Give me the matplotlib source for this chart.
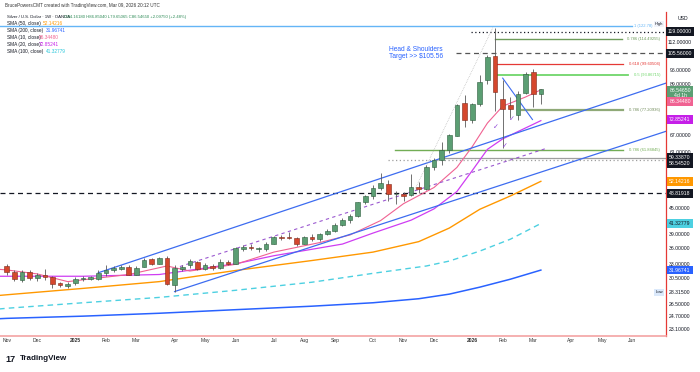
import numpy as np
import pandas as pd
import matplotlib
matplotlib.use("Agg")
import matplotlib.pyplot as plt
import matplotlib.dates as mdates
import matplotlib.transforms as mtransforms

plt.rcParams['font.family'] = ['Liberation Sans', 'DejaVu Sans']

# weekly candles, silver / USD (OANDA), first bar = week of Nov 4 2024
first_week = pd.Timestamp('2024-11-04')
opens = [32.7, 31.7, 30.3, 31.6, 30.6, 31.1, 30.7, 29.7, 29.35, 29.7,
         30.4, 30.45, 30.5, 31.5, 31.9, 32.2, 32.6, 31.2, 32.6, 33.9,
         33.1, 34.1, 29.4, 32.2, 32.8, 33.4, 32.2, 32.7, 32.4, 33.4,
         33.1, 36.0, 36.3, 35.9, 35.9, 37.0, 38.4, 38.3, 38.2, 37.0,
         38.4, 38.0, 39.0, 39.6, 41.0, 42.2, 43.1, 46.5, 48.1, 50.2,
         51.5, 48.5, 48.7, 48.3, 50.6, 50.0, 56.5, 58.6, 62.0, 67.1,
         80.5, 73.0, 80.0, 91.0, 104.0, 81.9, 79.4, 75.2, 85.0, 95.0,
         84.1618]
highs = [33.1, 31.9, 32.0, 31.9, 31.5, 32.2, 31.0, 30.0, 29.9, 30.7,
         31.0, 31.0, 32.0, 32.8, 32.7, 32.9, 32.9, 32.7, 34.1, 34.2,
         34.4, 34.6, 32.8, 32.9, 33.9, 33.6, 33.3, 33.1, 33.9, 33.8,
         36.3, 36.8, 37.0, 36.4, 37.3, 38.6, 38.8, 39.5, 38.4, 38.6,
         38.9, 39.2, 40.1, 41.4, 42.5, 43.5, 46.6, 48.4, 51.2, 54.5,
         52.5, 49.4, 49.3, 54.4, 52.0, 57.0, 59.3, 64.6, 67.5, 79.8,
         84.0, 80.5, 93.5, 104.5, 121.6, 91.3, 83.0, 86.0, 95.3, 97.0,
         86.8504]
lows = [31.1, 30.1, 30.0, 30.3, 30.1, 30.3, 28.9, 29.1, 29.0, 29.5,
        30.1, 30.2, 30.3, 30.9, 31.6, 31.9, 31.1, 31.1, 32.5, 32.9,
        33.0, 29.5, 28.315, 31.8, 32.4, 31.9, 32.0, 31.9, 32.2, 32.8,
        33.0, 35.6, 35.7, 35.3, 35.5, 36.9, 37.7, 37.9, 36.6, 36.9,
        37.6, 37.5, 38.8, 39.4, 40.8, 41.5, 42.9, 45.9, 47.2, 49.8,
        46.9, 46.0, 46.9, 48.0, 49.0, 49.8, 55.5, 57.0, 61.0, 67.0,
        70.5, 72.0, 79.0, 89.0, 77.0, 62.8, 74.0, 73.0, 84.3, 78.5,
        79.65065]
closes = [31.7, 30.4, 31.6, 30.6, 31.1, 30.7, 29.6, 29.4, 29.6, 30.5,
          30.6, 30.8, 31.4, 32.0, 32.3, 32.5, 31.2, 32.4, 33.8, 33.1,
          34.1, 29.6, 32.3, 32.6, 33.6, 32.1, 32.9, 32.3, 33.5, 33.0,
          36.2, 36.3, 36.1, 36.0, 36.9, 38.4, 38.2, 38.2, 37.0, 38.3,
          38.0, 39.0, 39.7, 41.0, 42.2, 43.1, 46.4, 48.0, 50.2, 51.6,
          48.6, 48.7, 48.1, 50.6, 50.1, 56.4, 58.6, 62.0, 67.2, 79.4,
          73.0, 79.8, 90.3, 103.5, 85.2, 77.8, 77.6, 84.6, 94.2, 84.45,
          86.5465]

# moving averages (week number from first bar, value)
sma10_weeks = [-1, 0, 4, 8, 12, 16, 21, 24, 30, 35, 41, 45, 49, 52, 56, 59, 61, 63, 65, 68, 70]
sma10_vals = [32.1, 32.0, 31.3, 30.0, 30.6, 31.2, 32.7, 31.8, 33.0, 35.3, 37.2, 38.8, 42.0,
              46.1, 50.4, 56.3, 63.1, 71.9, 78.9, 83.0, 86.3448]
sma20_weeks = [-1, 0, 10, 20, 30, 35, 39, 44, 48, 53, 56, 59, 61, 63, 65, 70]
sma20_vals = [30.9, 30.9, 30.9, 31.2, 33.1, 34.6, 35.6, 36.9, 39.2, 42.1, 44.8, 49.3,
              55.3, 62.2, 65.9, 72.85241]
sma50_weeks = [-1, 0, 10, 20, 30, 40, 48, 54, 58, 62, 66, 70]
sma50_vals = [27.8, 27.9, 28.9, 30.0, 31.9, 33.7, 35.3, 37.4, 40.3, 44.7, 48.1, 52.14216]
sma100_weeks = [-1, 0, 10, 20, 30, 40, 48, 55, 58, 62, 66, 70]
sma100_vals = [25.8, 25.9, 26.7, 27.5, 28.6, 29.9, 31.4, 32.7, 33.6, 35.5, 37.9, 41.32779]
sma200_weeks = [-1, 0, 10, 20, 30, 40, 48, 54, 58, 62, 66, 70]
sma200_vals = [24.45, 24.5, 24.8, 25.2, 25.7, 26.2, 26.7, 27.3, 28.0, 29.1, 30.4, 31.96741]

month_labels = ['Nov', 'Dec', '2025', 'Feb', 'Mar', 'Apr', 'May', 'Jun', 'Jul', 'Aug',
                'Sep', 'Oct', 'Nov', 'Dec', '2026', 'Feb', 'Mar', 'Apr', 'May', 'Jun']

# horizontal levels: (price, start week, end week, colour, style, width, label)
fib_levels = [
    (122.78, -2, 82.0, '#64b5f6', '-', 1.0, '1 (122.78)'),
    (114.49255, 64, 80.6, '#6d9b5a', '-', 1.0, '0.786 (114.49255)'),
    (99.60504, 64, 80.8, '#e53935', '-', 0.9, '0.618 (99.60504)'),
    (93.86715, 64, 81.4, '#6fd66a', '-', 1.3, '0.5 (93.86715)'),
    (77.20936, 67.5, 80.8, '#8fa977', '-', 1.6, '0.786 (77.20936)'),
    (61.84845, 50.9, 80.8, '#72ad55', '-', 1.0, '0.786 (61.84845)'),
]
price_lines = [
    (119.0, 60.9, '#131722', (0, (1, 2))),
    (105.56, 58.9, '#555555', (0, (4, 3))),
    (59.3387, 56.8, '#9e9e9e', '-'),
    (58.5452, 50.0, '#9e9e9e', (0, (1, 2))),
    (48.81918, -2, '#131722', (0, (4, 3))),
]

dates = first_week + pd.to_timedelta(np.arange(len(closes)) * 7, unit='D')
x = mdates.date2num(dates)
x0 = x[0]
opens, highs, lows, closes = map(np.array, (opens, highs, lows, closes))


def wk(w):
    return x0 + 7 * np.asarray(w, dtype=float)


fig = plt.figure(figsize=(7, 3.72), dpi=100)
ax = fig.add_axes([0, 1 - 336 / 372, 666 / 700, 324 / 372])
ax.set_yscale('log')
ax.set_ylim(22.23, 132.6)
ax.set_xlim(wk(-0.88), wk(86.4))

# levels
for p, w0, w1, col, ls, lw, lab in fib_levels:
    ax.plot([wk(max(w0, -0.88)), wk(w1)], [p, p], color=col, ls=ls, lw=lw, zorder=2)
for p, w0, col, ls in price_lines:
    ax.plot([wk(max(w0, -0.88)), wk(86.4)], [p, p], color=col, ls=ls, lw=0.9, zorder=2)

# moving averages
ax.plot(wk(sma200_weeks), sma200_vals, color='#2962ff', lw=1.1, zorder=2)
ax.plot(wk(sma100_weeks), sma100_vals, color='#4dd0e1', lw=1.0, ls=(0, (4, 3)), zorder=2)
ax.plot(wk(sma50_weeks), sma50_vals, color='#ff9800', lw=1.0, zorder=2)
ax.plot(wk(sma20_weeks), sma20_vals, color='#cf3df2', lw=0.9, zorder=2)
ax.plot(wk(sma10_weeks), sma10_vals, color='#f06292', lw=0.8, zorder=2)

# trend lines
ax.plot(wk([12.0, 86.4]), [31.5, 89.6], color='#3d6cf0', lw=0.9, zorder=2)
ax.plot(wk([22.0, 86.4]), [28.4, 68.7], color='#3d6cf0', lw=0.9, zorder=2)
ax.plot(wk([65.0, 68.9]), [92.1, 73.3], color='#3d6cf0', lw=0.8, zorder=2)
ax.plot(wk([22.7, 70.8]), [32.6, 62.6], color='#9b59d0', lw=0.8, ls=(0, (3, 3)), zorder=2)
ax.plot(wk([53.5, 63.7]), [49.9, 121.6], color='#b0b0b0', lw=0.5, ls=(0, (1, 1.5)), zorder=2)
for w, p in [(64.1, 70.2), (66.2, 73.3), (65.3, 63.2)]:
    ax.text(wk(w), p, '\u2713', color='#8e44d6', fontsize=5, ha='center', va='center', zorder=5)

# candles
up = closes >= opens
w = 4.3
ax.vlines(x, lows, highs, color='#5a5a5a', lw=0.6, zorder=3)
ax.bar(x[up], np.maximum(closes - opens, 0.12)[up], bottom=opens[up], width=w,
       color='#5b9e73', edgecolor='#2d5c3d', lw=0.4, zorder=4)
ax.bar(x[~up], (opens - closes)[~up], bottom=closes[~up], width=w,
       color='#d5472d', edgecolor='#7d2a1b', lw=0.4, zorder=4)

# axes look
for s in ['top', 'left']:
    ax.spines[s].set_visible(False)
ax.spines['right'].set_color('#e53935')
ax.spines['right'].set_linewidth(0.9)
ax.spines['bottom'].set_color('#f4a3a3')
ax.spines['bottom'].set_linewidth(1.2)
ax.yaxis.set_major_locator(matplotlib.ticker.NullLocator())
ax.yaxis.set_minor_locator(matplotlib.ticker.NullLocator())

month_starts = pd.date_range('2024-11-01', '2026-06-01', freq='MS')
first_mondays = [m + pd.Timedelta(days=(7 - m.weekday()) % 7) for m in month_starts]
ax.set_xticks(mdates.date2num(first_mondays))
ax.set_xticklabels(month_labels)
ax.tick_params(axis='x', length=0, pad=1.5, labelsize=3.6, colors='#333333')
for t in ax.get_xticklabels():
    if t.get_text() in ('2025', '2026'):
        t.set_fontweight('bold')

# fib labels
trans = mtransforms.blended_transform_factory(ax.transAxes, ax.transData)
for p, w0, w1, col, ls, lw, lab in fib_levels:
    right = 653 / 666 if lab.startswith('1 ') else 660 / 666
    ax.text(right, p, lab, transform=trans, ha='right', va='center', fontsize=3.0,
            color=col if col != '#8fa977' else '#6f8a58', zorder=6)

ax.text(wk(50.1), 105.6, 'Head & Shoulders\nTarget >> $105.56', color='#2962ff',
        fontsize=4.8, ha='left', va='center', linespacing=1.05, zorder=6)

# price scale
lab_x = 680 / 666
plain = [112, 96, 89, 67, 61, 45, 39, 36, 33, 30.5, 28.315, 26.5, 24.7, 23.1]
for p in plain:
    ax.text(lab_x, p, '%.5f' % p, transform=trans, ha='center', va='center',
            fontsize=3.7, color='#131722', clip_on=False, zorder=6)

boxed = [
    (119.0, '119.00000', '#131722', 'white', 0),
    (105.56, '105.56000', '#131722', 'white', 0),
    (86.5465, '86.54650\n4d 1h', '#5b9e73', 'white', -2.7),
    (86.3448, '86.34480', '#f06292', 'white', -8.5),
    (72.85241, '72.85241', '#c51fe8', 'white', 1.0),
    (59.3387, '59.33870', '#131722', 'white', 0.4),
    (58.5452, '58.54520', '#131722', 'white', -2.6),
    (52.14216, '52.14216', '#ff9800', 'white', 0),
    (48.81918, '48.81918', '#131722', 'white', 0),
    (41.32779, '41.32779', '#4dd0e1', '#131722', 0),
    (31.96741, '31.96741', '#2962ff', 'white', 0),
]
for p, txt, bg, fg, dy in boxed:
    ax.annotate(txt, xy=(lab_x, p), xycoords=trans, xytext=(0, dy), textcoords='offset points',
                ha='center', va='center', fontsize=3.7, color=fg, linespacing=1.1,
                bbox=dict(boxstyle='square,pad=0.35', fc=bg, ec='none'),
                annotation_clip=False, zorder=8)

fig.text(683 / 700, 1 - 18 / 372, 'USD', fontsize=3.7, ha='center', va='center', color='#131722')
fig.text(659 / 700, 1 - 24 / 372, 'High', fontsize=3.0, ha='center', va='center', color='#131722',
         bbox=dict(boxstyle='square,pad=0.3', fc='#f0f3fa', ec='none'), zorder=9)
fig.text(659 / 700, 1 - 292.3 / 372, 'Low', fontsize=3.0, ha='center', va='center', color='#131722',
         bbox=dict(boxstyle='square,pad=0.3', fc='#dbe9fb', ec='none'), zorder=9)

# header and legend
fig.text(5 / 700, 1 - 5.5 / 372, 'BrucePowersCMT created with TradingView.com, Mar 09, 2026 20:12 UTC',
         fontsize=3.3, va='center', color='#333333')
rows = [
    ('Silver / U.S. Dollar \u00b7 1W \u00b7 OANDA', 'O84.16180 H86.85040 L79.65065 C86.54650 +2.09750 (+2.48%)', '#2e8b57', 64),
    ('SMA (50, close)', '52.14216', '#ff9800', 43),
    ('SMA (200, close)', '31.96741', '#2962ff', 46),
    ('SMA (10, close)', '86.34480', '#f06292', 39),
    ('SMA (20, close)', '72.85241', '#c51fe8', 39),
    ('SMA (100, close)', '41.32779', '#26c6da', 46),
]
for i, (name, val, col, vx) in enumerate(rows):
    yy = 1 - (16.7 + 6.9 * i) / 372
    fs = 3.1 if i == 0 else 3.4
    fig.text(7 / 700, yy, name, fontsize=fs, va='center', color='#131722')
    fig.text(vx / 700, yy, val, fontsize=fs, va='center', color=col)

fig.text(5 / 700, 1 - 359 / 372, '17', fontsize=6.5, fontweight='heavy', va='center', color='#131722')
fig.text(20 / 700, 1 - 359 / 372, 'TradingView', fontsize=5.8, fontweight='bold', va='center', color='#131722')

fig.savefig('out.png', dpi=100)
